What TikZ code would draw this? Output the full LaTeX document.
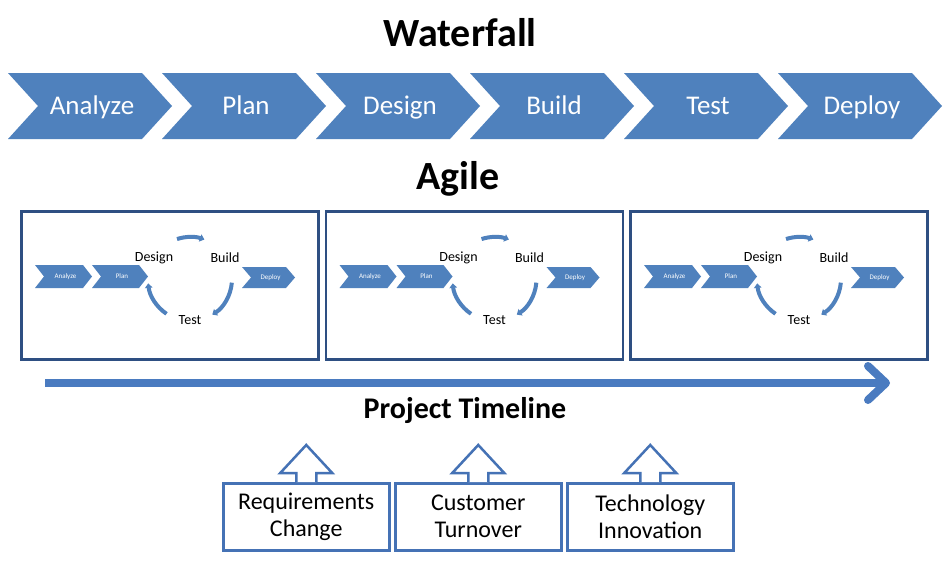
\documentclass[tikz,border=0pt]{standalone}
\usepackage{fontspec}
\setmainfont{Carlito}
\usetikzlibrary{calc,arrows.meta}
\definecolor{chev}{HTML}{4F81BD}
\definecolor{boxline}{HTML}{2E4F82}
\definecolor{arrline}{HTML}{4572B5}
\definecolor{tlcol}{HTML}{4A7BC0}
\newcommand\mychev[5]{\fill[chev] (#1,#2-#4) -- ++(#3-#5,0) -- ++(#5,#4) -- ++(-#5,#4) -- ++(-#3+#5,0) -- ++(#5,-#4) -- cycle;}
\tikzset{
  title/.style={font=\fontsize{40}{48}\selectfont\bfseries, anchor=base, inner sep=0},
  wflabel/.style={font=\fontsize{27}{32}\selectfont, text=white, anchor=base, inner sep=0},
  tinylabel/.style={font=\fontsize{7}{8}\selectfont, text=white, inner sep=0},
  cyclabel/.style={font=\fontsize{14}{16}\selectfont, text=black, inner sep=0},
  agbox/.style={draw=boxline, line width=2.5pt, anchor=north west, minimum width=297pt, minimum height=148pt, inner sep=0},
  cycarc/.style={draw=chev, line width=4pt, -{Triangle[length=4.5pt,width=7.5pt]}},
  rcbox/.style={draw=arrline, line width=2.5pt, fill=white, anchor=north west, minimum width=166pt, minimum height=67pt, align=center, font=\fontsize{24}{27}\selectfont, inner sep=0},
  uparrow/.style={draw=arrline, line width=2.5pt, fill=white, line join=miter},
}
\begin{document}
\begin{tikzpicture}[x=1pt,y=-1pt]
\useasboundingbox (0,0) rectangle (943,562);
\fill[white] (0,0) rectangle (943,562);

% Waterfall
\node[title] (wtitle) at (460,46) {Waterfall};
\foreach \lbl [count=\i from 0] in {Analyze,Plan,Design,Build,Test,Deploy} {
  \pgfmathsetmacro\L{8+154*\i}
  \mychev{\L}{106}{164}{33}{30}
  \node[wflabel] (wf\i) at (\L+84,114) {\lbl};
}

% Agile
\node[title] (atitle) at (458,189) {Agile};
\foreach \j in {0,1,2} {
  \pgfmathsetmacro\B{20+304.5*\j}
  \node[agbox] (ag\j) at (\B,210) {};
  \mychev{\B+15}{276.5}{57}{11.5}{9}
  \mychev{\B+72}{276.5}{56}{11.5}{9}
  \mychev{\B+222}{277.5}{53}{10.5}{9}
  \node[tinylabel] (ana\j) at (\B+45.5,276.5) {Analyze};
  \node[tinylabel] (pla\j) at (\B+102,276.5) {Plan};
  \node[tinylabel] (dep\j) at (\B+250.5,277.5) {Deploy};
  \coordinate (c\j) at (\B+170,279);
  \node[cyclabel] (des\j) at (\B+134,258) {Design};
  \node[cyclabel] (bui\j) at (\B+205,258) {Build};
  \node[cyclabel] (tes\j) at (\B+170,320) {Test};
  \draw[cycarc] ([shift={(-108:42)}]c\j) arc[start angle=-108, end angle=-70, radius=42];
  \draw[cycarc] ([shift={(5:42)}]c\j) arc[start angle=5, end angle=58, radius=42];
  \draw[cycarc] ([shift={(124:42)}]c\j) arc[start angle=124, end angle=174, radius=42];
}

% Timeline
\coordinate (tlA) at (45,383);
\coordinate (tlB) at (886,383);
\draw[tlcol, line width=8pt] (tlA) -- (tlB);
\draw[tlcol, line width=8pt, line cap=round, line join=round] ($(tlB)+(-18,-17)$) -- (tlB) -- ($(tlB)+(-18,17)$);
\node[font=\fontsize{30}{36}\selectfont\bfseries, anchor=base, inner sep=0] (tltext) at (465,418) {Project Timeline};

% Drivers
\foreach \t [count=\k from 0] in {{Requirements\\Change},{Customer\\Turnover},{Technology\\Innovation}} {
  \pgfmathsetmacro\X{222+172*\k}
  \node[rcbox] (rc\k) at (\X,482) {\t};
  \draw[uparrow] ($(rc\k.north)+(-10,0)$) -- ++(0,-9) -- ++(-16,0) -- ++(26,-28) -- ++(26,28) -- ++(-16,0) -- ++(0,9);
}
\end{tikzpicture}
\end{document}
